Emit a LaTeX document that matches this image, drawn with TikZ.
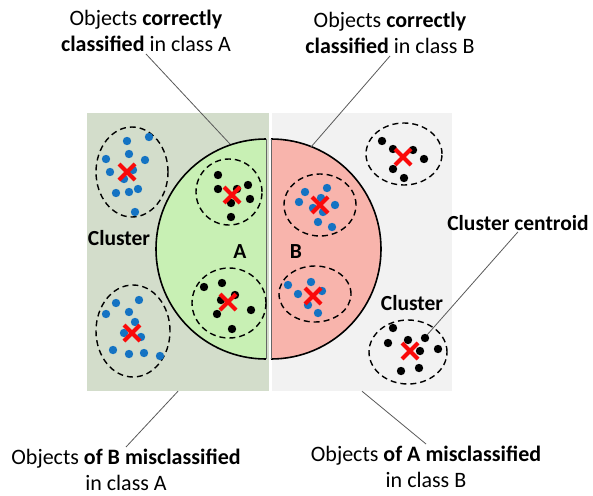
\documentclass[tikz,border=0pt]{standalone}
\usepackage{fontspec}
\setmainfont{Carlito}
\usetikzlibrary{shapes.geometric,calc}

\definecolor{sage}{RGB}{211,221,203}
\definecolor{paleGray}{RGB}{242,242,242}
\definecolor{halfA}{RGB}{200,240,180}
\definecolor{halfB}{RGB}{248,180,172}
\definecolor{dotBlue}{RGB}{20,115,195}
\definecolor{crossRed}{RGB}{250,10,10}

\begin{document}
\begin{tikzpicture}[
    x=1pt, y=-1pt,
    font=\fontsize{22}{26}\selectfont,
    panel/.style={inner sep=0pt, minimum height=278pt, minimum width=#1},
    half/.style={draw=black, line width=1.6pt},
    cluster/.style={ellipse, draw, dash pattern=on 6pt off 4pt, line width=1.4pt,
                    inner sep=0pt},
    lbl/.style={align=center, inner sep=2pt},
    tag/.style={font=\fontsize{21.5}{26}\selectfont\bfseries, inner sep=1pt},
    leader/.style={draw=black!65, line width=0.8pt},
    centroid/.pic={
      \draw[crossRed, line width=4pt] (-8,-8) -- (8,8) (-8,8) -- (8,-8);
    }
  ]
  \useasboundingbox (0,0) rectangle (593,495);

  % ---------- background panels ------------------------------------------
  \node[panel=182pt, fill=sage]      (panelA) at (178,252) {};
  \node[panel=180pt, fill=paleGray]  (panelB) at (362,252) {};

  % ---------- class regions (half discs) -----------------------------------
  \fill[halfA] (266,139) arc[start angle=90, end angle=270, radius=110pt] -- cycle;
  \fill[halfB] (271,139) arc[start angle=90, end angle=-90, radius=110pt] -- cycle;
  \draw[half] (266,139) arc[start angle=90, end angle=270, radius=110pt];
  \draw[half] (271,139) arc[start angle=90, end angle=-90, radius=110pt];
  \draw[black!60, line width=0.6pt] (266,139) -- (266,359) (271,139) -- (271,359);

  % ---------- clusters -----------------------------------------------------
  \node[cluster, minimum width=72pt, minimum height=90pt] (bTop) at (132,172) {};
  \node[cluster, minimum width=74pt, minimum height=92pt] (bBot) at (133,331) {};
  \node[cluster, minimum width=66pt, minimum height=66pt] (aInA) at (229,192) {};
  \node[cluster, minimum width=74pt, minimum height=70pt] (aInA2) at (229,303) {};
  \node[cluster, minimum width=72pt, minimum height=62pt] (bInB) at (320,205) {};
  \node[cluster, minimum width=72pt, minimum height=56pt] (bInB2) at (315,294) {};
  \node[cluster, minimum width=76pt, minimum height=62pt] (aTop) at (404,154) {};
  \node[cluster, minimum width=78pt, minimum height=64pt] (aBot) at (408,352) {};

  % blue objects (class B)
  \foreach \x/\y in {127/141,149/137,106/159,129/154,145/160,110/172,133/170,124/179,
                     116/193,129/192,138/189,135/212,
                     116/303,139/300,106/314,129/312,135/322,124/333,141/337,
                     113/350,129/354,144/353,160/356,
                     305/192,327/188,299/202,313/208,321/198,335/205,323/212,
                     318/222,332/227,
                     288/285,311/282,298/294,322/291,308/305,318/313}
    \fill[dotBlue] (\x,\y) circle[radius=4.2pt];

  % black objects (class A)
  \foreach \x/\y in {218/175,218/189,248/185,250/199,231/203,231/217,237/189,
                     204/287,222/283,221/300,235/295,251/310,217/314,232/329,
                     382/141,393/149,413/150,424/159,393/169,404/178,
                     393/328,388/343,408/340,425/338,420/351,438/349,401/371,419/368}
    \fill[black] (\x,\y) circle[radius=4.2pt];

  % centroids
  \foreach \x/\y in {127/172,132/333,232/195,228/302,320/205,313/296,403/157,410/351}
    \pic at (\x,\y) {centroid};

  % ---------- labels -------------------------------------------------------
  \node[tag] (clusterL) at (119,238) {Cluster};
  \node[tag] (clusterR) at (412,303) {Cluster};
  \node[tag] (nameA)    at (240,252) {A};
  \node[tag] (nameB)    at (296,252) {B};
  \node[tag] (centLbl)  at (518,223) {Cluster centroid};

  \node[lbl] (okA) at (146,31) {Objects \textbf{correctly}\\ \textbf{classified} in class A};
  \node[lbl] (okB) at (390,33) {Objects \textbf{correctly}\\ \textbf{classified} in class B};
  \node[lbl] (missA) at (126,470) {Objects \textbf{of B misclassified}\\ in class A};
  \node[lbl] (missB) at (426,467) {Objects \textbf{of A misclassified}\\ in class B};

  % ---------- leader lines -------------------------------------------------
  \coordinate (hitA) at (230,144);
  \coordinate (hitB) at (311,147);
  \coordinate (hitC) at (427,335);
  \draw[leader] (okA.south) -- (hitA);
  \draw[leader] (okB.south) -- (hitB);
  \draw[leader] (centLbl.south) -- (hitC);
  \draw[leader] (panelA.south) -- (missA.north);
  \draw[leader] (panelB.south) -- (missB.north);
\end{tikzpicture}
\end{document}
